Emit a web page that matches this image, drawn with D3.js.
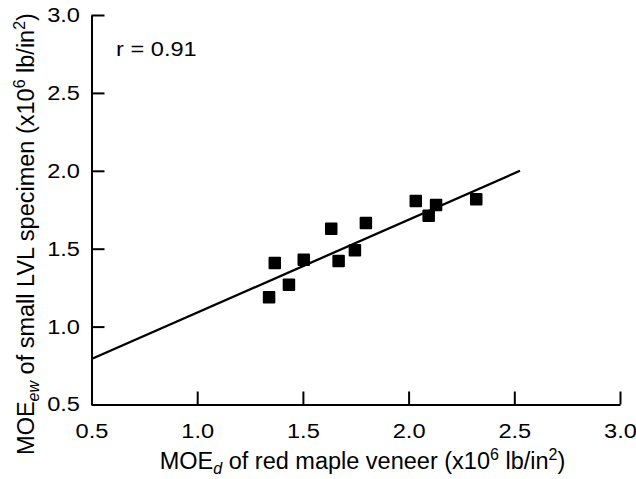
<!DOCTYPE html>
<html>
<head>
<meta charset="utf-8">
<script src="https://cdn.jsdelivr.net/npm/d3@7"></script>
<style>
  body { margin: 0; background: #fff; }
  text { font-family: "Liberation Sans", Arial, sans-serif; fill: #000; }
  .axis path, .axis line { stroke: #000; stroke-width: 2px; }
  .axis text { font-size: 20px; }
</style>
</head>
<body>
<div id="scatter"></div>
<script>
var svgWidth = 636;
var svgHeight = 479;

var margin = { top: 15, right: 16, bottom: 74.5, left: 91.5 };
var width = svgWidth - margin.left - margin.right;
var height = svgHeight - margin.top - margin.bottom;

// data
var veneerMOE = [1.34, 1.367, 1.434, 1.504, 1.634, 1.669, 1.746, 1.798, 2.034, 2.095, 2.13, 2.32];
var lvlMOE = [1.188, 1.408, 1.269, 1.429, 1.628, 1.421, 1.49, 1.665, 1.806, 1.712, 1.78, 1.817];
var fitX = [0.5, 2.527];
var fitY = [0.792, 2.0];
var tickValues = [0.5, 1.0, 1.5, 2.0, 2.5, 3.0];
var rLabel = "r = 0.91";

var svg = d3.select("#scatter")
  .append("svg")
  .attr("width", svgWidth)
  .attr("height", svgHeight);

var chartGroup = svg.append("g")
  .attr("transform", `translate(${margin.left}, ${margin.top})`);

var xScale = d3.scaleLinear().domain([0.5, 3.0]).range([0, width]);
var yScale = d3.scaleLinear().domain([0.5, 3.0]).range([height, 0]);

var bottomAxis = d3.axisBottom(xScale)
  .tickValues(tickValues)
  .tickFormat(d3.format(".1f"))
  .tickSizeInner(-13)
  .tickSizeOuter(0)
  .tickPadding(18.8);

var leftAxis = d3.axisLeft(yScale)
  .tickValues(tickValues)
  .tickFormat(d3.format(".1f"))
  .tickSizeInner(-13)
  .tickSizeOuter(0)
  .tickPadding(11.5);

var xAxis = chartGroup.append("g")
  .attr("class", "axis")
  .attr("transform", `translate(0, ${height})`)
  .call(bottomAxis);

var yAxis = chartGroup.append("g")
  .attr("class", "axis")
  .call(leftAxis);

// labels in the picture are a bit wider than the font
function widen(sel, k) {
  sel.each(function() {
    var len = this.getComputedTextLength();
    d3.select(this)
      .attr("textLength", len * k)
      .attr("lengthAdjust", "spacingAndGlyphs");
  });
}
widen(xAxis.selectAll("text").attr("font-family", null), 1.18);
widen(yAxis.selectAll("text").attr("font-family", null), 1.18);
xAxis.selectAll("text").attr("font-size", null);
yAxis.selectAll("text").attr("font-size", null);

// regression line
chartGroup.append("line")
  .attr("x1", xScale(fitX[0]))
  .attr("y1", yScale(fitY[0]))
  .attr("x2", xScale(fitX[1]))
  .attr("y2", yScale(fitY[1]))
  .attr("stroke", "#000")
  .attr("stroke-width", 2.3);

// square markers
var size = 12.5;
chartGroup.selectAll("rect.pt")
  .data(veneerMOE)
  .enter()
  .append("rect")
  .attr("class", "pt")
  .attr("x", d => xScale(d) - size / 2)
  .attr("y", (d, i) => yScale(lvlMOE[i]) - size / 2)
  .attr("width", size)
  .attr("height", size)
  .attr("rx", 1)
  .attr("fill", "#000");

// r label
var rText = svg.append("text")
  .attr("x", 116)
  .attr("y", 56)
  .attr("font-size", "20px")
  .text(rLabel);
widen(rText, 1.18);

// x axis title
var xTitle = svg.append("text")
  .attr("x", 362.5)
  .attr("y", 469)
  .attr("text-anchor", "middle")
  .attr("font-size", "23.5px");
xTitle.append("tspan").text("MOE");
xTitle.append("tspan").attr("font-size", "16px").attr("font-style", "italic").attr("dy", 5).text("d");
xTitle.append("tspan").attr("dy", -5).text(" of red maple veneer (x10");
xTitle.append("tspan").attr("font-size", "16px").attr("dy", -9).text("6");
xTitle.append("tspan").attr("dy", 9).text(" lb/in");
xTitle.append("tspan").attr("font-size", "16px").attr("dy", -9).text("2");
xTitle.append("tspan").attr("dy", 9).text(")");

// y axis title
var yTitle = svg.append("text")
  .attr("transform", "translate(33.5, 234) rotate(-90)")
  .attr("text-anchor", "middle")
  .attr("font-size", "23.5px");
yTitle.append("tspan").text("MOE");
yTitle.append("tspan").attr("font-size", "16px").attr("font-style", "italic").attr("dy", 5).text("ew");
yTitle.append("tspan").attr("dy", -5).text(" of small LVL specimen (x10");
yTitle.append("tspan").attr("font-size", "16px").attr("dy", -9).text("6");
yTitle.append("tspan").attr("dy", 9).text(" lb/in");
yTitle.append("tspan").attr("font-size", "16px").attr("dy", -9).text("2");
yTitle.append("tspan").attr("dy", 9).text(")");
</script>
</body>
</html>
